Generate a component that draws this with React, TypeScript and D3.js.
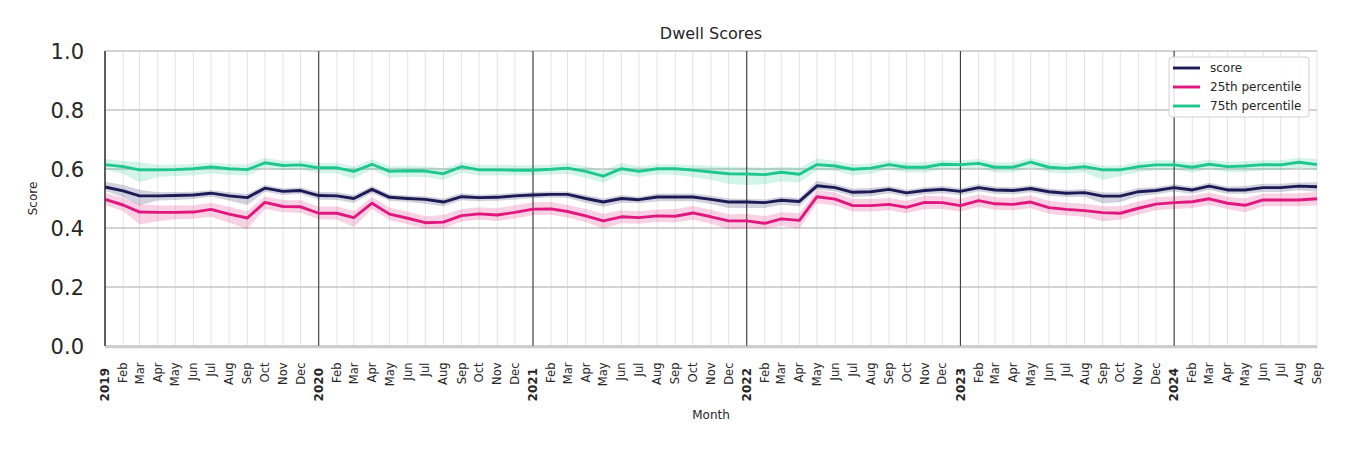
import React from 'react';
import * as d3 from 'd3';

// Monthly dwell scores, Jan 2019 .. Sep 2024
const months = d3.timeMonth.range(new Date(2019, 0, 1), new Date(2024, 9, 1));

const score = [
  0.539, 0.526, 0.509, 0.509, 0.510, 0.512, 0.518, 0.509, 0.503, 0.535, 0.524, 0.527,
  0.510, 0.509, 0.500, 0.531, 0.504, 0.500, 0.497, 0.488, 0.506, 0.503, 0.504, 0.509,
  0.512, 0.514, 0.514, 0.500, 0.488, 0.500, 0.496, 0.505, 0.505, 0.505, 0.497, 0.488,
  0.488, 0.486, 0.494, 0.490, 0.543, 0.537, 0.521, 0.523, 0.531, 0.519, 0.527, 0.531,
  0.524, 0.537, 0.529, 0.527, 0.534, 0.523, 0.518, 0.520, 0.508, 0.508, 0.523, 0.527,
  0.537, 0.529, 0.542, 0.529, 0.529, 0.537, 0.537, 0.542, 0.540,
];
const scoreLo = [
  0.526, 0.504, 0.476, 0.493, 0.495, 0.498, 0.506, 0.493, 0.478, 0.523, 0.512, 0.515,
  0.496, 0.495, 0.486, 0.518, 0.492, 0.488, 0.482, 0.474, 0.494, 0.491, 0.492, 0.497,
  0.501, 0.503, 0.502, 0.486, 0.472, 0.486, 0.484, 0.491, 0.491, 0.491, 0.481, 0.468,
  0.468, 0.468, 0.479, 0.474, 0.530, 0.525, 0.506, 0.508, 0.518, 0.506, 0.514, 0.518,
  0.511, 0.525, 0.516, 0.514, 0.521, 0.510, 0.505, 0.506, 0.483, 0.488, 0.508, 0.514,
  0.524, 0.516, 0.529, 0.516, 0.516, 0.522, 0.522, 0.528, 0.523,
];
const scoreHi = [
  0.557, 0.546, 0.530, 0.521, 0.522, 0.523, 0.528, 0.521, 0.515, 0.546, 0.535, 0.537,
  0.522, 0.521, 0.512, 0.542, 0.514, 0.510, 0.508, 0.500, 0.518, 0.513, 0.515, 0.519,
  0.522, 0.524, 0.524, 0.512, 0.500, 0.512, 0.506, 0.517, 0.517, 0.517, 0.509, 0.500,
  0.498, 0.497, 0.506, 0.502, 0.560, 0.548, 0.534, 0.536, 0.542, 0.530, 0.538, 0.542,
  0.535, 0.548, 0.540, 0.538, 0.545, 0.534, 0.529, 0.532, 0.520, 0.520, 0.536, 0.538,
  0.548, 0.540, 0.553, 0.540, 0.542, 0.550, 0.550, 0.554, 0.555,
];

const p25 = [
  0.497, 0.478, 0.454, 0.453, 0.453, 0.454, 0.463, 0.447, 0.434, 0.487, 0.473, 0.472,
  0.450, 0.450, 0.435, 0.484, 0.447, 0.433, 0.418, 0.420, 0.442, 0.448, 0.444, 0.453,
  0.464, 0.465, 0.456, 0.441, 0.424, 0.438, 0.435, 0.441, 0.440, 0.451, 0.438, 0.424,
  0.424, 0.416, 0.431, 0.426, 0.506, 0.498, 0.476, 0.476, 0.480, 0.470, 0.487, 0.486,
  0.476, 0.493, 0.482, 0.480, 0.488, 0.469, 0.463, 0.459, 0.452, 0.450, 0.467, 0.481,
  0.486, 0.489, 0.499, 0.484, 0.477, 0.495, 0.495, 0.495, 0.499,
];
const p25Lo = [
  0.478, 0.458, 0.412, 0.423, 0.430, 0.431, 0.438, 0.418, 0.397, 0.464, 0.453, 0.452,
  0.430, 0.428, 0.403, 0.464, 0.426, 0.413, 0.398, 0.398, 0.422, 0.428, 0.424, 0.432,
  0.443, 0.445, 0.436, 0.420, 0.398, 0.416, 0.414, 0.420, 0.419, 0.428, 0.414, 0.396,
  0.398, 0.396, 0.408, 0.398, 0.484, 0.476, 0.456, 0.456, 0.460, 0.450, 0.464, 0.464,
  0.456, 0.472, 0.462, 0.460, 0.468, 0.448, 0.442, 0.438, 0.423, 0.428, 0.446, 0.460,
  0.464, 0.468, 0.478, 0.464, 0.453, 0.474, 0.474, 0.474, 0.476,
];
const p25Hi = [
  0.519, 0.502, 0.480, 0.476, 0.476, 0.477, 0.486, 0.472, 0.457, 0.507, 0.495, 0.494,
  0.472, 0.474, 0.457, 0.505, 0.469, 0.455, 0.440, 0.444, 0.464, 0.470, 0.467, 0.477,
  0.487, 0.488, 0.478, 0.464, 0.448, 0.460, 0.457, 0.463, 0.464, 0.475, 0.462, 0.447,
  0.448, 0.440, 0.454, 0.450, 0.528, 0.520, 0.498, 0.498, 0.502, 0.492, 0.509, 0.508,
  0.498, 0.514, 0.504, 0.502, 0.510, 0.492, 0.486, 0.482, 0.475, 0.474, 0.490, 0.504,
  0.508, 0.510, 0.520, 0.506, 0.500, 0.517, 0.517, 0.518, 0.522,
];

const p75 = [
  0.615, 0.608, 0.597, 0.597, 0.598, 0.601, 0.607, 0.601, 0.598, 0.621, 0.612, 0.614,
  0.604, 0.604, 0.592, 0.616, 0.592, 0.594, 0.593, 0.584, 0.608, 0.597, 0.597, 0.596,
  0.596, 0.599, 0.603, 0.592, 0.576, 0.601, 0.592, 0.601, 0.601, 0.596, 0.590, 0.584,
  0.583, 0.581, 0.589, 0.582, 0.615, 0.610, 0.599, 0.603, 0.615, 0.606, 0.606, 0.616,
  0.615, 0.619, 0.606, 0.606, 0.623, 0.606, 0.602, 0.608, 0.597, 0.597, 0.608, 0.614,
  0.614, 0.606, 0.616, 0.608, 0.610, 0.615, 0.614, 0.623, 0.615,
];
const p75Lo = [
  0.598, 0.583, 0.555, 0.573, 0.576, 0.578, 0.586, 0.580, 0.578, 0.604, 0.596, 0.598,
  0.586, 0.586, 0.566, 0.598, 0.570, 0.574, 0.573, 0.563, 0.588, 0.578, 0.578, 0.578,
  0.578, 0.581, 0.583, 0.570, 0.553, 0.581, 0.573, 0.582, 0.580, 0.573, 0.563, 0.550,
  0.546, 0.548, 0.558, 0.554, 0.596, 0.594, 0.578, 0.584, 0.598, 0.588, 0.588, 0.600,
  0.598, 0.603, 0.588, 0.588, 0.606, 0.588, 0.586, 0.588, 0.563, 0.576, 0.590, 0.596,
  0.598, 0.588, 0.600, 0.590, 0.590, 0.596, 0.596, 0.604, 0.596,
];
const p75Hi = [
  0.634, 0.627, 0.623, 0.614, 0.615, 0.617, 0.622, 0.618, 0.615, 0.638, 0.627, 0.629,
  0.620, 0.621, 0.609, 0.633, 0.609, 0.611, 0.610, 0.602, 0.624, 0.614, 0.614, 0.613,
  0.613, 0.615, 0.620, 0.609, 0.596, 0.620, 0.609, 0.616, 0.616, 0.613, 0.611, 0.608,
  0.608, 0.604, 0.608, 0.604, 0.636, 0.627, 0.616, 0.619, 0.630, 0.622, 0.624, 0.630,
  0.629, 0.634, 0.622, 0.622, 0.638, 0.622, 0.618, 0.624, 0.612, 0.612, 0.624, 0.630,
  0.630, 0.622, 0.632, 0.624, 0.626, 0.630, 0.630, 0.638, 0.634,
];

const yTicks = [0, 0.2, 0.4, 0.6, 0.8, 1.0];

const seriesList = [
  { name: 'score', color: '#1d1b55', mid: score, lo: scoreLo, hi: scoreHi },
  { name: '25th percentile', color: '#e0177f', mid: p25, lo: p25Lo, hi: p25Hi },
  { name: '75th percentile', color: '#1fc78f', mid: p75, lo: p75Lo, hi: p75Hi },
];

const W = 1350;
const H = 450;
const margin = { top: 51, right: 33, bottom: 104, left: 105 };
const font = 'DejaVu Sans, sans-serif';

export default function App() {
  const x = d3.scaleTime()
    .domain([months[0], months[months.length - 1]])
    .range([margin.left, W - margin.right]);
  const y = d3.scaleLinear().domain([0, 1]).range([H - margin.bottom, margin.top]);

  const fmtMonth = d3.timeFormat('%b');
  const fmtYear = d3.timeFormat('%Y');

  const line = (vals: number[]) =>
    d3.line<Date>().x(d => x(d)).y((_, i) => y(vals[i]))(months) || '';
  const band = (lo: number[], hi: number[]) =>
    d3.area<Date>().x(d => x(d)).y0((_, i) => y(lo[i])).y1((_, i) => y(hi[i]))(months) || '';

  const x0 = margin.left;
  const x1 = W - margin.right;
  const yb = H - margin.bottom;

  return (
    <svg width={W} height={H} style={{ position: 'absolute', left: 0, top: 0, background: '#fff' }}>
      <text x={(x0 + x1) / 2} y={39} textAnchor="middle" fontFamily={font} fontSize={16} fill="#262626">
        Dwell Scores
      </text>

      {/* monthly grid */}
      {months.map((m, i) => (
        <line key={'vg' + i} x1={x(m)} x2={x(m)} y1={margin.top} y2={yb} stroke="#e3e3e3" strokeWidth={1} />
      ))}

      {/* horizontal grid */}
      {yTicks.map(t => (
        <line key={'hg' + t} x1={x0} x2={x1} y1={y(t)} y2={y(t)} stroke="#c4c4c4" strokeWidth={1.6} />
      ))}

      {/* bands */}
      {seriesList.map(s => (
        <path key={'b' + s.name} d={band(s.lo, s.hi)} fill={s.color} fillOpacity={0.2} stroke="none" />
      ))}

      {/* year separators */}
      {months.filter(m => m.getMonth() === 0).map((m, i) => (
        <line key={'yl' + i} x1={x(m)} x2={x(m)} y1={margin.top} y2={yb} stroke="#3a3a3a" strokeWidth={1.1} />
      ))}

      {/* series lines */}
      {seriesList.map(s => (
        <path key={'l' + s.name} d={line(s.mid)} fill="none" stroke={s.color} strokeWidth={2.9} strokeLinejoin="round" />
      ))}

      {/* spines */}
      <line x1={x0} x2={x1} y1={yb + 1} y2={yb + 1} stroke="#cccccc" strokeWidth={2.5} />
      <line x1={x0} x2={x0} y1={margin.top} y2={yb} stroke="#3a3a3a" strokeWidth={1.1} />

      {/* y axis */}
      {yTicks.map(t => (
        <text key={'yt' + t} x={84} y={y(t)} dy="0.36em" textAnchor="end" fontFamily={font} fontSize={21} fill="#262626">
          {t.toFixed(1)}
        </text>
      ))}
      <text transform={`translate(37,${(margin.top + yb) / 2}) rotate(-90)`} textAnchor="middle"
        fontFamily={font} fontSize={12} fill="#262626">
        Score
      </text>

      {/* x axis */}
      {months.map((m, i) => {
        const isYear = m.getMonth() === 0;
        return (
          <text key={'xt' + i}
            transform={`translate(${x(m)},${isYear ? 368 : 362.5}) rotate(-90)`}
            dy="0.35em" textAnchor="end" fontFamily={font}
            fontSize={isYear ? 12 : 11.5} fontWeight={isYear ? 'bold' : 'normal'} fill="#262626">
            {isYear ? fmtYear(m) : fmtMonth(m)}
          </text>
        );
      })}
      <text x={(x0 + x1) / 2} y={419} textAnchor="middle" fontFamily={font} fontSize={12} fill="#262626">
        Month
      </text>

      {/* legend */}
      <g transform="translate(1169,57)">
        <rect x={0} y={0} width={140} height={60} rx={3} fill="#fff" fillOpacity={0.85} stroke="#d0d0d0" strokeWidth={1} />
        {seriesList.map((s, i) => (
          <g key={'lg' + s.name} transform={`translate(0,${11 + i * 19})`}>
            <line x1={4} x2={31} y1={0} y2={0} stroke={s.color} strokeWidth={2.9} />
            <text x={41} y={0} dy="0.35em" fontFamily={font} fontSize={12} fill="#262626">
              {s.name}
            </text>
          </g>
        ))}
      </g>
    </svg>
  );
}
